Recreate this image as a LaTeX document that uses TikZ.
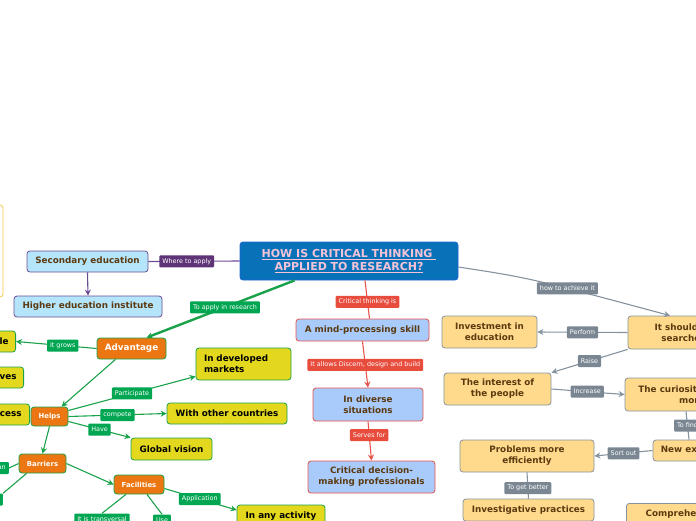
\documentclass[tikz,border=0pt]{standalone}
\usepackage{fontspec}
\setmainfont{DejaVu Sans}
\usetikzlibrary{positioning,calc,arrows.meta}

\definecolor{titleblue}{HTML}{0872B9}
\definecolor{titleline}{HTML}{2066D0}
\definecolor{titleink}{HTML}{F5C3D8}
\definecolor{skyfill}{HTML}{B5E5FB}
\definecolor{plumline}{HTML}{6B4C93}
\definecolor{plumtag}{HTML}{5E3477}
\definecolor{brownink}{HTML}{5B3A10}
\definecolor{bluefill}{HTML}{A9CBFC}
\definecolor{redline}{HTML}{E8534A}
\definecolor{redtag}{HTML}{E84C3D}
\definecolor{limefill}{HTML}{E3D81E}
\definecolor{greenline}{HTML}{19A24A}
\definecolor{greentag}{HTML}{00A651}
\definecolor{orangefill}{HTML}{EC7612}
\definecolor{sandfill}{HTML}{FFDA8C}
\definecolor{sandline}{HTML}{8593A0}
\definecolor{graytag}{HTML}{7A8793}
\definecolor{frameyellow}{HTML}{F4C64A}

\tikzset{
  box/.style={draw, rounded corners=3pt, line width=0.8pt, align=center,
    font=\bfseries\fontsize{8.8}{11}\selectfont, inner xsep=6pt, inner ysep=3pt, minimum height=21pt},
  titlebox/.style={box, fill=titleblue, draw=titleline, text=titleink,
    font=\bfseries\fontsize{11}{13}\selectfont},
  skybox/.style={box, fill=skyfill, draw=plumline, text=brownink},
  bluebox/.style={box, fill=bluefill, draw=redline, text=brownink},
  limebox/.style={box, fill=limefill, draw=greenline, text=black},
  orangebox/.style={box, fill=orangefill, draw=greenline, text=white},
  smallorange/.style={orangebox, font=\bfseries\fontsize{6.9}{8}\selectfont, minimum height=19pt},
  sandbox/.style={box, fill=sandfill, draw=sandline, text=brownink},
  tag/.style={inner xsep=3pt, inner ysep=2pt, minimum height=12pt, rounded corners=1pt,
    text=white, font=\fontsize{6.4}{7.5}\selectfont},
  gtag/.style={tag, fill=greentag},
  ptag/.style={tag, fill=plumtag},
  rtag/.style={tag, fill=redtag},
  stag/.style={tag, fill=graytag},
  arr/.style={-{Stealth[length=6pt,width=6pt]}},
  glink/.style={draw=greenline, line width=1.1pt},
  plink/.style={draw=plumline, line width=1.1pt},
  rlink/.style={draw=redline, line width=1.1pt},
  slink/.style={draw=sandline, line width=1.1pt},
}

\begin{document}
\begin{tikzpicture}[x=1pt,y=-1pt]
  \useasboundingbox (0,0) rectangle (696,520);
  \clip (0,0) rectangle (696,520);

  % Frame cut at the left edge
  \draw[frameyellow, line width=0.8pt, rounded corners=3pt] (-20,205) rectangle (3,297);

  % Central question
  \node[titlebox, minimum width=218pt, minimum height=38pt] (title) at (349,261)
    {\underline{HOW IS CRITICAL THINKING\ }\\\underline{APPLIED TO RESEARCH?}};

  % Where to apply
  \node[skybox, minimum width=121pt] (sec) at (87.5,261.5) {Secondary education};
  \node[skybox, minimum width=148pt] (higher) at (88,306.5) {Higher education institute};

  % Advantage branch
  \node[orangebox, minimum width=69pt] (adv) at (131.5,348.5) {Advantage};
  \node[limebox, anchor=east, inner xsep=7pt] (grows) at (16,341.5) {le};
  \node[limebox, anchor=east, inner xsep=7pt] (ves) at (24,377.5) {ves};
  \node[limebox, anchor=east, inner xsep=8pt] (cess) at (30,414.5) {cess};
  \node[smallorange, minimum width=37pt] (helps) at (49.5,416.5) {Helps};
  \node[limebox, minimum height=32pt, text width=79pt, align=left, inner xsep=8pt] (dev) at (243.5,364) {In developed\\markets};
  \node[limebox, minimum width=120pt] (other) at (227,413.5) {With other countries};
  \node[limebox, minimum width=81pt, minimum height=22pt] (glob) at (171.5,449) {Global vision};
  \node[smallorange, minimum width=47pt] (barr) at (42.5,463.5) {Barriers};
  \node[smallorange, minimum width=50pt] (fac) at (139,484.5) {Facilities};
  \node[limebox, minimum width=88pt, minimum height=22pt] (any) at (281,516) {In any activity};
  \node[gtag, anchor=east] (an) at (9,468) {an};
  \node[gtag, anchor=east] (blank) at (3,499.5) {\phantom{x}};
  \node[gtag] (trans) at (102,519.5) {It is transversal};
  \node[gtag] (use) at (162,520.5) {Use};

  % Critical thinking is
  \node[bluebox, minimum width=133pt, minimum height=22pt] (mind) at (362.5,330) {A mind-processing skill};
  \node[bluebox, minimum width=110pt, minimum height=33pt] (div) at (368,404.5) {In diverse\\situations};
  \node[bluebox, minimum width=127pt, minimum height=32pt] (crit) at (371.5,477) {Critical decision-\\making professionals};

  % How to achieve it
  \node[sandbox, minimum width=95pt, minimum height=32pt] (inv) at (489.5,332) {Investment in\\education};
  \node[sandbox, minimum width=112pt, minimum height=33pt] (should) at (684,332.5) {It should be\\searched};
  \node[sandbox, minimum width=107pt, minimum height=32pt] (people) at (497.5,389) {The interest of\\the people};
  \node[sandbox, minimum width=134pt, minimum height=33pt] (curio) at (692,394.5) {The curiosity to know\\more};
  \node[sandbox, minimum width=100pt] (newex) at (703,450.5) {New experiences};
  \node[sandbox, minimum width=134pt, minimum height=32pt] (prob) at (527,456) {Problems more\\efficiently};
  \node[sandbox, minimum width=131pt, minimum height=22pt] (invp) at (528.5,510) {Investigative practices};
  \node[sandbox, anchor=north west, minimum width=116pt, minimum height=22pt] (compr) at (626,503) {Comprehension};

  % Connectors, left
  \draw[plink] (title.west) -- node[ptag, pos=0.58] {Where to apply} (sec.east);
  \draw[plink, arr] (sec.south) -- (higher.north);
  \draw[glink, line width=2.4pt, arr] ([xshift=55pt]title.south west) -- node[gtag, pos=0.47] {To apply in research} ([xshift=15pt]adv.north);
  \draw[glink, arr] (adv.west) -- node[gtag, pos=0.42] {It grows} (grows.east);
  \draw[glink, arr] ([xshift=-16pt]adv.south) -- ([xshift=12pt]helps.north);
  \draw[glink, arr] ([yshift=6pt]helps.east) -- node[gtag, pos=0.5] {Participate} ([yshift=4pt]dev.south west);
  \draw[glink, arr] (helps.east) -- node[gtag, pos=0.5] {compete} (other.west);
  \draw[glink, arr] ([yshift=-5pt]helps.east) -- node[gtag, pos=0.5] {Have} (glob.north west);
  \draw[glink, arr] (helps.south) -- (barr.north);
  \draw[glink] (barr.west) -- (an.east);
  \draw[glink] ([xshift=8pt]barr.south west) -- (blank.north east);
  \draw[glink, arr] (barr.east) -- (fac.west);
  \draw[glink, arr] ([yshift=-4pt]fac.east) -- node[gtag, pos=0.49] {Application} ([yshift=6pt]any.west);
  \draw[glink] ([xshift=-13pt]fac.south) -- (trans.north);
  \draw[glink] ([xshift=8pt]fac.south) -- (use.north);

  % Connectors, centre
  \draw[rlink] ([xshift=16pt]title.south) -- node[rtag, pos=0.56] {Critical thinking is} ([xshift=7pt]mind.north);
  \draw[rlink, arr] (mind.south) -- node[rtag, pos=0.51] {It allows Discern, design and build} (div.north);
  \draw[rlink, arr] (div.south) -- node[rtag, pos=0.35] {Serves for} (crit.north);

  % Connectors, right
  \draw[slink, arr] ([yshift=-6pt]title.east) .. controls (530,278) .. node[stag, pos=0.66] {how to achieve it} ([xshift=-14pt]should.north);
  \draw[slink, arr] (should.west) -- node[stag, pos=0.5] {Perform} (inv.east);
  \draw[slink, arr] (should.south west) -- node[stag, pos=0.5] {Raise} (people.north east);
  \draw[slink, arr] (people.east) -- node[stag, pos=0.49] {Increase} (curio.west);
  \draw[slink] ([xshift=-6pt]curio.south) -- node[stag, pos=0.5] {To find} ([xshift=-14pt]newex.north);
  \draw[slink, arr] (newex.west) -- node[stag, pos=0.5] {Sort out} (prob.east);
  \draw[slink] (prob.south) -- node[stag, pos=0.6] {To get better} (invp.north);
\end{tikzpicture}
\end{document}
